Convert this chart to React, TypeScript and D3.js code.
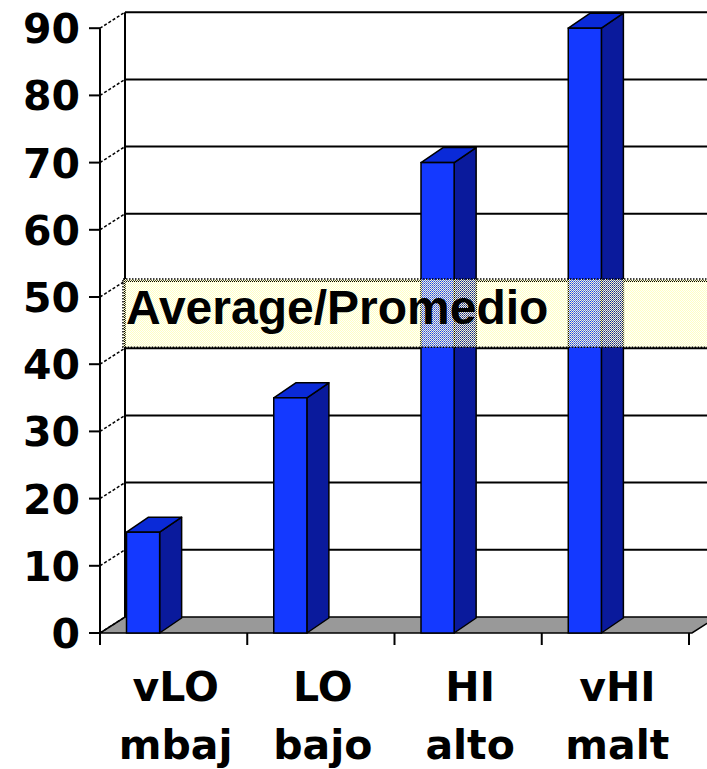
import React, { useEffect, useRef } from 'react';
import * as d3 from 'd3';

const categories = ['vLO', 'LO', 'HI', 'vHI'];
const subLabels = ['mbaj', 'bajo', 'alto', 'malt'];
const values = [15, 35, 70, 90];
const yTicks = [0, 10, 20, 30, 40, 50, 60, 70, 80, 90];
const averageRange = [40, 50];
const averageLabel = 'Average/Promedio';

const App = () => {
  const ref = useRef<SVGSVGElement>(null);

  useEffect(() => {
    const width = 707;
    const height = 769;
    const x0 = 100;
    const x1 = 689;
    const depthX = 25; // wall depth
    const depthY = -16;
    const barDX = 22; // bar depth
    const barDY = -15;

    const svg = d3.select(ref.current)
      .attr('width', width)
      .attr('height', height);

    svg.selectAll('*').remove();

    const y = d3.scaleLinear().domain([0, 90]).range([633, 28.2]);
    const x = d3.scaleBand().domain(categories).range([x0, x1]).padding(0);
    const bw = x.bandwidth();

    // checker pattern for the average box
    const defs = svg.append('defs');
    const pat = defs.append('pattern')
      .attr('id', 'checker')
      .attr('width', 2)
      .attr('height', 2)
      .attr('patternUnits', 'userSpaceOnUse');
    pat.append('rect').attr('width', 1).attr('height', 1).attr('fill', '#ffffc4');
    pat.append('rect').attr('x', 1).attr('y', 1).attr('width', 1).attr('height', 1).attr('fill', '#ffffc4');
    pat.append('rect').attr('x', 1).attr('width', 1).attr('height', 1).attr('fill', '#ffffee').attr('opacity', 0.3);

    // back wall gridlines
    svg.append('g')
      .selectAll('line')
      .data(yTicks.filter(d => d > 0))
      .enter()
      .append('line')
      .attr('x1', x0 + depthX)
      .attr('x2', width + 5)
      .attr('y1', d => y(d) + depthY)
      .attr('y2', d => y(d) + depthY)
      .attr('stroke', '#000')
      .attr('stroke-width', 2);

    svg.append('line')
      .attr('x1', x0 + depthX)
      .attr('x2', x0 + depthX)
      .attr('y1', y(90) + depthY)
      .attr('y2', y(0) + depthY)
      .attr('stroke', '#000')
      .attr('stroke-width', 2);

    // floor
    const floorRight = x1 + 3;
    svg.append('path')
      .attr('d', `M${x0},${y(0)} L${floorRight},${y(0)} L${floorRight + depthX},${y(0) + depthY} L${x0 + depthX},${y(0) + depthY} Z`)
      .attr('fill', '#999999')
      .attr('stroke', '#000')
      .attr('stroke-width', 1.5);

    // side connectors
    svg.append('g')
      .selectAll('line')
      .data(yTicks)
      .enter()
      .append('line')
      .attr('x1', x0)
      .attr('x2', x0 + depthX)
      .attr('y1', d => y(d))
      .attr('y2', d => y(d) + depthY)
      .attr('stroke', '#000')
      .attr('stroke-width', 1.5)
      .attr('stroke-dasharray', '3 2');

    // front axis
    svg.append('line')
      .attr('x1', x0)
      .attr('x2', x0)
      .attr('y1', y(90))
      .attr('y2', y(0) + 12)
      .attr('stroke', '#000')
      .attr('stroke-width', 2);

    svg.append('g')
      .selectAll('line')
      .data(yTicks)
      .enter()
      .append('line')
      .attr('x1', x0 - 11)
      .attr('x2', x0)
      .attr('y1', d => y(d))
      .attr('y2', d => y(d))
      .attr('stroke', '#000')
      .attr('stroke-width', 2);

    svg.append('g')
      .selectAll('text')
      .data(yTicks)
      .enter()
      .append('text')
      .attr('x', 80)
      .attr('y', d => y(d) + 15)
      .attr('text-anchor', 'end')
      .text(d => d)
      .style('font-family', 'DejaVu Sans, Verdana, sans-serif')
      .style('font-weight', 'bold')
      .style('font-size', '41px')
      .style('fill', '#000');

    // category ticks
    const boundaries = categories.map(c => x(c) as number).concat([x1]);
    svg.append('g')
      .selectAll('line')
      .data(boundaries)
      .enter()
      .append('line')
      .attr('x1', d => d)
      .attr('x2', d => d)
      .attr('y1', y(0))
      .attr('y2', y(0) + 12)
      .attr('stroke', '#000')
      .attr('stroke-width', 2);

    // bars
    const bar = svg.append('g')
      .selectAll('g')
      .data(values)
      .enter()
      .append('g');

    const bx = (i: number) => (x(categories[i]) as number) + bw * 0.18;
    const bWidth = bw * 0.225;

    bar.append('path')
      .attr('d', (d, i) => {
        const l = bx(i) + bWidth;
        return `M${l},${y(0)} L${l + barDX},${y(0) + barDY} L${l + barDX},${y(d) + barDY} L${l},${y(d)} Z`;
      })
      .attr('fill', '#0a1a9c')
      .attr('stroke', '#000')
      .attr('stroke-width', 1.5)
      .attr('stroke-linejoin', 'round');

    bar.append('path')
      .attr('d', (d, i) => {
        const l = bx(i);
        return `M${l},${y(d)} L${l + barDX},${y(d) + barDY} L${l + bWidth + barDX},${y(d) + barDY} L${l + bWidth},${y(d)} Z`;
      })
      .attr('fill', '#0a2ad8')
      .attr('stroke', '#000')
      .attr('stroke-width', 1.5)
      .attr('stroke-linejoin', 'round');

    bar.append('rect')
      .attr('x', (d, i) => bx(i))
      .attr('y', d => y(d))
      .attr('width', bWidth)
      .attr('height', d => y(0) - y(d))
      .attr('fill', '#1439ff')
      .attr('stroke', '#000')
      .attr('stroke-width', 1.5);

    // average box
    const avgTop = y(averageRange[1]) + depthY;
    const avgBottom = y(averageRange[0]) + depthY;
    svg.append('rect')
      .attr('x', x0 + depthX - 2)
      .attr('y', avgTop - 2)
      .attr('width', width)
      .attr('height', avgBottom - avgTop + 1)
      .attr('fill', 'url(#checker)')
      .attr('stroke', '#000')
      .attr('stroke-width', 1.5)
      .attr('stroke-dasharray', '1.5 1.5');

    svg.append('text')
      .attr('x', x0 + depthX + 1)
      .attr('y', avgTop + 43)
      .text(averageLabel)
      .style('font-family', 'Liberation Sans, Arial, sans-serif')
      .style('font-weight', 'bold')
      .style('font-size', '48px')
      .style('fill', '#000');

    // category labels
    const labels = svg.append('g')
      .selectAll('text')
      .data(categories)
      .enter()
      .append('text')
      .attr('text-anchor', 'middle')
      .style('font-family', 'DejaVu Sans, Verdana, sans-serif')
      .style('font-weight', 'bold')
      .style('font-size', '41px')
      .style('fill', '#000');

    labels.append('tspan')
      .attr('x', d => (x(d) as number) + bw / 2 + 2)
      .attr('y', 701)
      .text(d => d);

    labels.append('tspan')
      .attr('x', d => (x(d) as number) + bw / 2 + 2)
      .attr('y', 759)
      .text((d, i) => subLabels[i]);
  }, []);

  return (
    <svg
      ref={ref}
      style={{ position: 'absolute', left: 0, top: 0, display: 'block', background: '#fff' }}
    />
  );
};

export default App;
